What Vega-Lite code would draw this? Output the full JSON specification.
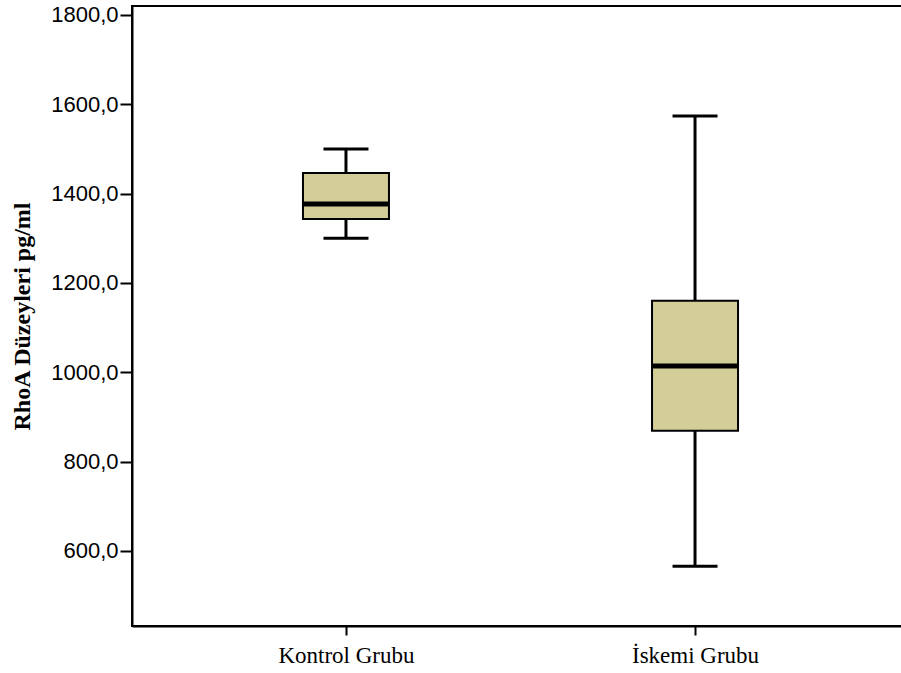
{
  "$schema": "https://vega.github.io/schema/vega-lite/v6.json",
  "width": 777,
  "height": 620,
  "autosize": {"type": "none"},
  "padding": {"left": 132, "top": 6, "right": 0, "bottom": 50},
  "background": "white",
  "config": {
    "view": {"stroke": "black", "strokeWidth": 2},
    "axis": {"grid": false, "domainColor": "black", "domainWidth": 2, "tickColor": "black", "tickWidth": 2, "labelColor": "black", "titleColor": "black"}
  },
  "data": {
    "values": [
      {"group": "Kontrol Grubu", "lower": 1300, "q1": 1343, "median": 1377, "q3": 1446, "upper": 1500},
      {"group": "İskemi Grubu", "lower": 566, "q1": 869, "median": 1014, "q3": 1160, "upper": 1574}
    ]
  },
  "encoding": {
    "x": {
      "field": "group",
      "type": "nominal",
      "sort": ["Kontrol Grubu", "İskemi Grubu"],
      "scale": {"type": "point", "padding": 0.613},
      "axis": {"title": null, "labelAngle": 0, "labelFont": "Liberation Serif", "labelFontSize": 23, "tickSize": 9, "labelPadding": 9}
    }
  },
  "layer": [
    {
      "mark": {"type": "rule", "strokeWidth": 3, "color": "black"},
      "encoding": {
        "y": {"field": "lower", "type": "quantitative", "scale": {"domain": [432, 1820], "nice": false, "zero": false},
          "axis": {"title": "RhoA Düzeyleri pg/ml", "titleFont": "Liberation Serif", "titleFontWeight": "bold", "titleFontSize": 24, "titlePadding": 16,
            "values": [600, 800, 1000, 1200, 1400, 1600, 1800],
            "labelExpr": "replace(format(datum.value, '.1f'), '.', ',')",
            "labelFont": "Liberation Sans", "labelFontSize": 22, "tickSize": 12, "labelPadding": 2}},
        "y2": {"field": "upper"}
      }
    },
    {
      "mark": {"type": "bar", "size": 86, "fill": "#d3ce98", "stroke": "black", "strokeWidth": 2},
      "encoding": {
        "y": {"field": "q1", "type": "quantitative"},
        "y2": {"field": "q3"}
      }
    },
    {
      "mark": {"type": "tick", "size": 86, "thickness": 5, "color": "black", "opacity": 1},
      "encoding": {"y": {"field": "median", "type": "quantitative"}}
    },
    {
      "mark": {"type": "tick", "size": 45, "thickness": 3, "color": "black", "opacity": 1},
      "encoding": {"y": {"field": "lower", "type": "quantitative"}}
    },
    {
      "mark": {"type": "tick", "size": 45, "thickness": 3, "color": "black", "opacity": 1},
      "encoding": {"y": {"field": "upper", "type": "quantitative"}}
    }
  ]
}
